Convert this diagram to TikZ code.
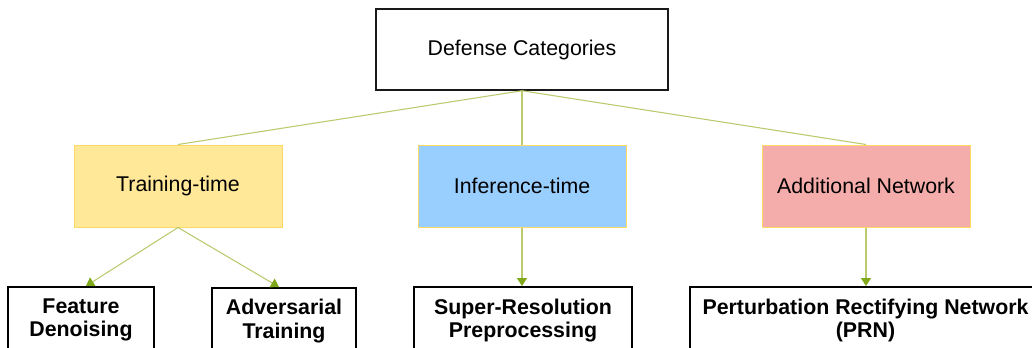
\documentclass[tikz,border=0pt]{standalone}
\usepackage{fontspec}
\setmainfont{Liberation Sans}
\usetikzlibrary{arrows.meta}
\definecolor{conn}{HTML}{B9CB6E}
\definecolor{tipgreen}{HTML}{7FA81A}
\definecolor{ttfill}{HTML}{FFE999}
\definecolor{itfill}{HTML}{99CFFF}
\definecolor{anfill}{HTML}{F4ADAA}
\definecolor{ybord}{HTML}{FFD966}
\tikzset{
  topbox/.style={draw=black!90, line width=1.1pt, fill=white, minimum width=219pt, minimum height=60.75pt, inner sep=0pt, font=\fontsize{16}{19}\selectfont},
  catbox/.style={draw=ybord, line width=0.75pt, minimum width=156pt, minimum height=61.5pt, inner sep=0pt, font=\fontsize{16}{19}\selectfont},
  leafbox/.style={draw=black, line width=1.5pt, fill=white, minimum height=60pt, inner sep=0pt, anchor=north},
  leaftext/.style={font=\bfseries\fontsize{16}{17.6}\selectfont, align=center, inner sep=0pt, anchor=north},
  link/.style={draw=conn, line width=0.8pt},
  arrowlink/.style={draw=conn, line width=0.8pt, -{Triangle[length=6pt,width=7.5pt,fill=tipgreen,color=tipgreen]}},
}
\begin{document}
\begin{tikzpicture}[x=0.75pt,y=-0.75pt]
\useasboundingbox (0,0) rectangle (1032,347);
\clip (0,0) rectangle (1032,347);
\fill[white] (0,0) rectangle (1032,347);

\node[topbox] (top) at (522,49.5) {Defense Categories};
\node[catbox, fill=ttfill] (tt) at (178,186) {Training-time};
\node[catbox, fill=itfill] (it) at (522,186) {Inference-time};
\node[catbox, fill=anfill] (an) at (866,186) {Additional Network};

\node[leafbox, minimum width=109.5pt] (fd) at (81,286) {};
\node[leafbox, minimum width=108pt] (at) at (284,287) {};
\node[leafbox, minimum width=163.5pt] (sr) at (523,286) {};
\node[leafbox, minimum width=264pt] (prn) at (866,286) {};

\node[leaftext] (fdt) at (81,298.5) {Feature\\Denoising};
\node[leaftext] (att) at (284,299) {Adversarial\\Training};
\node[leaftext] (srt) at (523,298.5) {Super-Resolution\\Preprocessing};
\node[leaftext] (prnt) at (865.5,298.5) {Perturbation Rectifying Network\\(PRN)};

\draw[link] (top.south) -- (tt.north);
\draw[link] (top.south) -- (it.north);
\draw[link] (top.south) -- (an.north);

\draw[arrowlink] (tt.south) -- ([xshift=3.75pt]fd.north);
\draw[arrowlink] (tt.south) -- ([xshift=-3.75pt]at.north);
\draw[arrowlink] (it.south) -- ([xshift=-0.75pt]sr.north);
\draw[arrowlink] (an.south) -- (prn.north);
\end{tikzpicture}
\end{document}
